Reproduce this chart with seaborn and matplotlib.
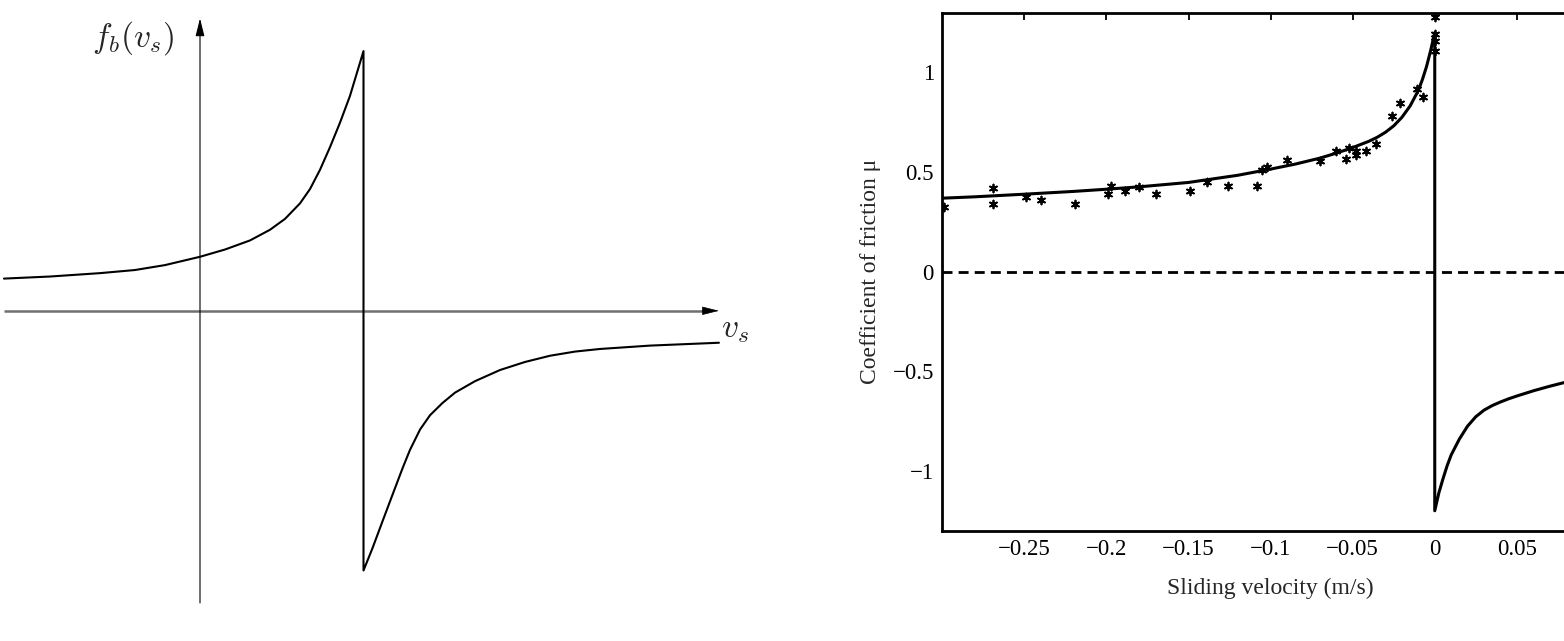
import numpy as np
import pandas as pd
import matplotlib
matplotlib.use("Agg")
import matplotlib.pyplot as plt
import seaborn as sns

# ---------------- data ----------------
# Left panel: schematic friction law f_b(v_s) (normalised units, jump at v_s = 1)
sketch_left_v = [-1.199, -0.917, -0.612, -0.398, -0.214, 0.0, 0.153, 0.306, 0.428,
                 0.520, 0.612, 0.673, 0.734, 0.795, 0.856, 0.917, 1.0]
sketch_left_f = [0.124, 0.132, 0.145, 0.157, 0.176, 0.208, 0.236, 0.271, 0.312,
                 0.354, 0.414, 0.469, 0.543, 0.630, 0.724, 0.827, 1.0]
sketch_right_v = [1.0, 1.055, 1.116, 1.177, 1.239, 1.284, 1.346, 1.407, 1.483,
                  1.560, 1.682, 1.835, 1.988, 2.141, 2.294, 2.446, 2.752, 3.174]
sketch_right_f = [-1.0, -0.914, -0.811, -0.709, -0.606, -0.536, -0.457, -0.402,
                  -0.355, -0.315, -0.271, -0.228, -0.197, -0.173, -0.157, -0.147,
                  -0.134, -0.123]

# Right panel: fitted friction curve
fit_neg_v = [-0.30, -0.28, -0.25, -0.22, -0.20, -0.18, -0.15, -0.12, -0.10, -0.085,
             -0.07, -0.06, -0.05, -0.04, -0.035, -0.03, -0.025, -0.02, -0.015,
             -0.01, -0.0075, -0.005, -0.0025, 0.0]
fit_neg_mu = [0.369, 0.376, 0.389, 0.403, 0.414, 0.426, 0.448, 0.484, 0.515, 0.540,
              0.570, 0.595, 0.623, 0.655, 0.675, 0.700, 0.732, 0.775, 0.832,
              0.910, 0.965, 1.030, 1.110, 1.200]
fit_pos_v = [0.0, 0.0025, 0.005, 0.0075, 0.01, 0.015, 0.02, 0.025, 0.03, 0.035,
             0.04, 0.045, 0.05, 0.06, 0.07, 0.08, 0.09, 0.1]
fit_pos_mu = [-1.200, -1.110, -1.040, -0.975, -0.920, -0.840, -0.775, -0.728,
              -0.695, -0.672, -0.654, -0.638, -0.624, -0.598, -0.575, -0.554,
              -0.536, -0.520]

# Right panel: measured points
meas_v = [-0.299, -0.269, -0.269, -0.249, -0.240, -0.219, -0.199, -0.197, -0.189,
          -0.180, -0.170, -0.149, -0.139, -0.126, -0.108, -0.105, -0.102, -0.090,
          -0.070, -0.060, -0.054, -0.052, -0.048, -0.048, -0.042, -0.036, -0.026,
          -0.021, -0.011, -0.007, 0.0, 0.0, 0.0, 0.0]
meas_mu = [0.327, 0.419, 0.339, 0.376, 0.359, 0.339, 0.389, 0.431, 0.406,
           0.423, 0.389, 0.406, 0.448, 0.429, 0.429, 0.511, 0.528, 0.560,
           0.556, 0.607, 0.566, 0.623, 0.585, 0.607, 0.607, 0.640, 0.779,
           0.849, 0.919, 0.877, 1.278, 1.195, 1.158, 1.108]

xtick_values = [-0.25, -0.2, -0.15, -0.1, -0.05, 0.0, 0.05]
xtick_labels = ["\u22120.25", "\u22120.2", "\u22120.15", "\u22120.1", "\u22120.05", "0", "0.05"]
ytick_values = [-1.0, -0.5, 0.0, 0.5, 1.0]
ytick_labels = ["\u22121", "\u22120.5", "0", "0.5", "1"]

# ---------------- style ----------------
sns.set_theme(style="white")
plt.rcParams["font.family"] = ["Liberation Serif", "DejaVu Serif"]
plt.rcParams["mathtext.fontset"] = "cm"

W, H = 1564, 641
fig = plt.figure(figsize=(W / 100, H / 100), dpi=100)

# ---------------- left panel ----------------
ax1 = fig.add_axes([0, 0, 780 / W, 1])
ax1.set_xlim(-200 / 163.5, 580 / 163.5)
ax1.set_ylim(-(641 - 310.8) / 259.7, 310.8 / 259.7)
ax1.axis("off")

# horizontal axis (grey line, black head)
ax1.plot([-1.199, 3.09], [0, 0], color="#707070", lw=1.8, zorder=1,
         solid_capstyle="butt")
ax1.annotate("", xy=(3.174, 0), xytext=(3.07, 0),
             arrowprops=dict(arrowstyle="-|>,head_length=0.6,head_width=0.15",
                             mutation_scale=18, lw=0.5, color="black",
                             shrinkA=0, shrinkB=0))
# vertical axis
ax1.annotate("", xy=(0, 1.126), xytext=(0, -1.125),
             arrowprops=dict(arrowstyle="-|>,head_length=0.6,head_width=0.15",
                             mutation_scale=18, lw=0.8, color="black",
                             shrinkA=0, shrinkB=0))

sk = pd.DataFrame({
    "v": sketch_left_v + [sketch_left_v[-1]] + sketch_right_v,
    "f": sketch_left_f + [sketch_right_f[0]] + sketch_right_f,
})
sns.lineplot(data=sk, x="v", y="f", ax=ax1, color="black", lw=1.5,
             estimator=None, sort=False)
ax1.text(-0.407, 1.05, r"$f_b(v_s)$", fontsize=24, ha="center", va="center")
ax1.text(3.275, -0.074, r"$v_s$", fontsize=24, ha="center", va="center")

# ---------------- right panel ----------------
ax2 = fig.add_axes([942.3 / W, (641 - 530.7) / H, 656.6 / W, 518.0 / H])
fit = pd.DataFrame({"v": fit_neg_v + fit_pos_v, "mu": fit_neg_mu + fit_pos_mu})
ax2.axhline(0, color="black", lw=2.0, linestyle=(0, (3.6, 2.2)), zorder=1)
sns.lineplot(data=fit, x="v", y="mu", ax=ax2, color="black", lw=2.2,
             estimator=None, sort=False, zorder=3)
meas = pd.DataFrame({"v": meas_v, "mu": meas_mu})
sns.scatterplot(data=meas, x="v", y="mu", ax=ax2, marker=(6, 2, 0), s=32,
                color="black", edgecolor="black", linewidth=1.3, zorder=4)

ax2.set_xlim(-0.3, 0.1)
ax2.set_ylim(-1.3, 1.3)
ax2.set_xticks(xtick_values)
ax2.set_xticklabels(xtick_labels)
ax2.set_yticks(ytick_values)
ax2.set_yticklabels(ytick_labels)
ax2.tick_params(direction="in", length=5, width=1.3, top=True, right=True,
                labelsize=16.5, pad=6, colors="black")
for sp in ax2.spines.values():
    sp.set_visible(True)
    sp.set_linewidth(2.0)
    sp.set_color("black")
ax2.set_xlabel("Sliding velocity (m/s)", fontsize=17, labelpad=13)
ax2.set_ylabel("Coefficient of friction \u03bc", fontsize=17, labelpad=8)
ax2.grid(False)

fig.savefig("out.png", dpi=100)
